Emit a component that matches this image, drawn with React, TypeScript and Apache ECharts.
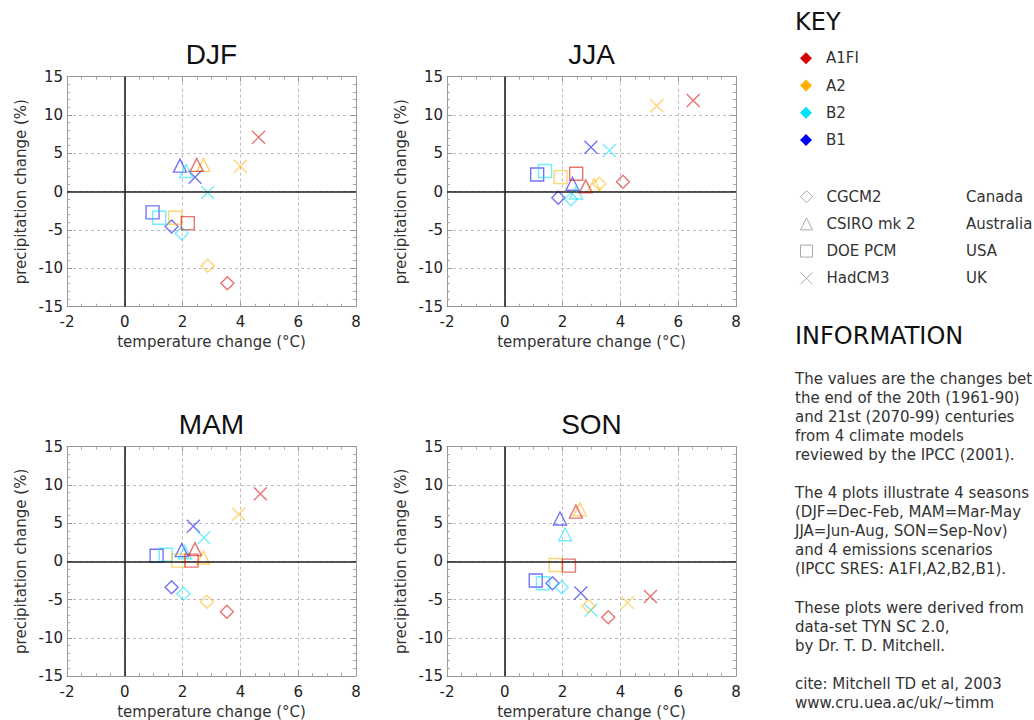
import React, { useEffect, useRef } from "react";
import * as echarts from "echarts";

const FONT = "'Liberation Sans', Arial, Helvetica, sans-serif";
const WFONT = "'DejaVu Sans', 'Liberation Sans', Arial, sans-serif";

// ---------- data ----------
const seasons = ["DJF", "JJA", "MAM", "SON"];
const scenarios = ["A1FI", "A2", "B2", "B1"];
const scenarioColors = ["#d40000", "#ffb000", "#00e0ff", "#0000f0"];
const models = ["CGCM2", "CSIRO mk 2", "DOE PCM", "HadCM3"];
const countries = ["Canada", "Australia", "USA", "UK"];
const xTicks = { min: -2, max: 8, interval: 2 };
const yTicks = { min: -15, max: 15, interval: 5 };

// rows: scenarios (A1FI, A2, B2, B1); columns: models (CGCM2, CSIRO mk 2, DOE PCM, HadCM3)
const djfTemp = [
  [3.55, 2.49, 2.18, 4.63],
  [2.87, 2.72, 1.74, 4.0],
  [1.97, 2.12, 1.19, 2.87],
  [1.62, 1.91, 0.96, 2.43],
];
const djfPrecip = [
  [-11.95, 3.5, -4.1, 7.1],
  [-9.65, 3.5, -3.4, 3.33],
  [-5.45, 2.7, -3.4, -0.1],
  [-4.55, 3.4, -2.7, 1.9],
];
const jjaTemp = [
  [4.09, 2.8, 2.47, 6.52],
  [3.27, 3.09, 1.93, 5.26],
  [2.29, 2.47, 1.39, 3.62],
  [1.85, 2.34, 1.12, 2.98],
];
const jjaPrecip = [
  [1.3, 0.7, 2.34, 11.9],
  [1.04, 0.87, 1.9, 11.2],
  [-1.0, -0.1, 2.7, 5.37],
  [-0.8, 1.04, 2.25, 5.8],
];
const mamTemp = [
  [3.53, 2.43, 2.31, 4.69],
  [2.84, 2.72, 1.85, 3.94],
  [2.03, 2.08, 1.42, 2.74],
  [1.62, 1.97, 1.1, 2.37],
];
const mamPrecip = [
  [-6.6, 1.6, 0.1, 8.83],
  [-5.3, 0.5, 0.1, 6.15],
  [-4.25, 1.2, 0.87, 3.1],
  [-3.4, 1.47, 0.74, 4.6],
];
const sonTemp = [
  [3.58, 2.46, 2.22, 5.04],
  [2.89, 2.6, 1.76, 4.25],
  [1.97, 2.09, 1.32, 2.98],
  [1.65, 1.91, 1.07, 2.63],
];
const sonPrecip = [
  [-7.3, 6.5, -0.56, -4.6],
  [-5.85, 6.8, -0.48, -5.4],
  [-3.4, 3.55, -2.86, -6.4],
  [-2.86, 5.6, -2.5, -4.15],
];

const infoLines = [
  "The values are the changes bet",
  "the end of the 20th (1961-90)",
  "and 21st (2070-99) centuries",
  "from 4 climate models",
  "reviewed by the IPCC (2001).",
  "",
  "The 4 plots illustrate 4 seasons",
  "(DJF=Dec-Feb, MAM=Mar-May",
  "JJA=Jun-Aug, SON=Sep-Nov)",
  "and 4 emissions scenarios",
  "(IPCC SRES: A1FI,A2,B2,B1).",
  "",
  "These plots were derived from",
  "data-set TYN SC 2.0,",
  "by Dr. T. D. Mitchell.",
  "",
  "cite: Mitchell TD et al, 2003",
  "www.cru.uea.ac/uk/~timm",
];

// ---------- layout ----------
const temps = [djfTemp, jjaTemp, mamTemp, sonTemp];
const precips = [djfPrecip, jjaPrecip, mamPrecip, sonPrecip];
const gridPos = [
  { left: 67, top: 76.7 },
  { left: 447, top: 76.7 },
  { left: 67, top: 446.7 },
  { left: 447, top: 446.7 },
];
const GW = 289;
const GH = 230;
const X_SYMBOL = "path://M0,0L20,20M20,0L0,20";
const modelSymbols = ["diamond", "triangle", "rect", X_SYMBOL];
const INFO_FIRST = 379;
const LH = 19.05;

export default function App() {
  const ref = useRef<HTMLDivElement>(null);

  useEffect(() => {
    document.body.style.margin = "0";
    document.body.style.overflow = "hidden";
    const chart = echarts.init(ref.current!, null, { renderer: "svg" });

    const frameColor = "#999";
    const grid: any[] = [];
    const xAxis: any[] = [];
    const yAxis: any[] = [];
    const series: any[] = [];
    const graphic: any[] = [];

    seasons.forEach((season, g) => {
      const p = gridPos[g];
      grid.push({ left: p.left, top: p.top, width: GW, height: GH });
      const tickCommon = {
        axisLine: { show: true, onZero: false, lineStyle: { color: frameColor, width: 1 } },
        axisTick: { show: true, inside: true, length: 5, lineStyle: { color: frameColor } },
      };
      xAxis.push({
        gridIndex: g,
        type: "value",
        position: "bottom",
        ...xTicks,
        ...tickCommon,
        minorTick: { show: true, splitNumber: 4, length: 3, lineStyle: { color: "#aaa" } },
        splitLine: { show: true, lineStyle: { color: "#bbb", type: [3, 3], width: 1 } },
        axisLabel: { color: "#222", fontSize: 15, margin: 8, fontFamily: WFONT },
        name: "temperature change (°C)",
        nameLocation: "middle",
        nameGap: 28,
        nameTextStyle: { color: "#333", fontSize: 15, fontFamily: WFONT },
      });
      xAxis.push({
        gridIndex: g,
        type: "value",
        position: "top",
        ...xTicks,
        ...tickCommon,
        minorTick: { show: true, splitNumber: 4, length: 3, lineStyle: { color: "#aaa" } },
        splitLine: { show: false },
        axisLabel: { show: false },
      });
      yAxis.push({
        gridIndex: g,
        type: "value",
        position: "left",
        ...yTicks,
        ...tickCommon,
        minorTick: { show: true, splitNumber: 5, length: 3, lineStyle: { color: "#aaa" } },
        splitLine: { show: true, lineStyle: { color: "#bbb", type: [3, 3], width: 1 } },
        axisLabel: { color: "#222", fontSize: 15, margin: 4, fontFamily: WFONT },
        name: "precipitation change (%)",
        nameLocation: "middle",
        nameGap: 39,
        nameTextStyle: { color: "#333", fontSize: 15, fontFamily: WFONT },
      });
      yAxis.push({
        gridIndex: g,
        type: "value",
        position: "right",
        ...yTicks,
        ...tickCommon,
        minorTick: { show: true, splitNumber: 5, length: 3, lineStyle: { color: "#aaa" } },
        splitLine: { show: false },
        axisLabel: { show: false },
      });

      scenarios.forEach((sc, k) => {
        const s: any = {
          type: "scatter",
          name: sc,
          xAxisIndex: 2 * g,
          yAxisIndex: 2 * g,
          symbolSize: 13,
          z: 5 - k,
          itemStyle: {
            color: "transparent",
            borderColor: scenarioColors[k],
            borderWidth: 1.4,
            opacity: 0.55,
          },
          emphasis: { disabled: true },
          data: temps[g][k].map((t, i) => ({
            value: [t, precips[g][k][i]],
            symbol: modelSymbols[i],
          })),
        };
        if (k === 0) {
          s.markLine = {
            silent: true,
            symbol: "none",
            label: { show: false },
            animation: false,
            lineStyle: { color: "#222", width: 1.6, type: "solid" },
            data: [{ xAxis: 0 }, { yAxis: 0 }],
          };
        }
        series.push(s);
      });

      graphic.push({
        type: "text",
        x: p.left + GW / 2,
        y: p.top - 22,
        style: {
          text: season,
          fontSize: 28,
          fontFamily: FONT,
          fill: "#111",
          align: "center",
          verticalAlign: "middle",
        },
      });
    });

    // empty series that carry the model names for the model key
    models.forEach((m, i) => {
      series.push({
        type: "scatter",
        name: m,
        xAxisIndex: 0,
        yAxisIndex: 0,
        symbol: modelSymbols[i],
        itemStyle: { color: "transparent", borderColor: "#aaa", borderWidth: 1 },
        data: [],
      });
    });

    graphic.push({
      type: "text",
      x: 795,
      y: 22,
      style: { text: "KEY", fontSize: 24, fontFamily: WFONT, fill: "#111", verticalAlign: "middle" },
    });
    graphic.push({
      type: "text",
      x: 795,
      y: 336,
      style: { text: "INFORMATION", fontSize: 24, fontFamily: WFONT, fill: "#111", verticalAlign: "middle" },
    });
    countries.forEach((c, i) => {
      graphic.push({
        type: "text",
        x: 966,
        y: 196.7 + i * 27.2,
        style: { text: c, fontSize: 15, fontFamily: WFONT, fill: "#333", verticalAlign: "middle" },
      });
    });
    graphic.push({
      type: "text",
      x: 795,
      y: INFO_FIRST - LH / 2,
      style: {
        text: infoLines.join("\n"),
        fontSize: 15,
        lineHeight: LH,
        fontFamily: WFONT,
        fill: "#333",
        verticalAlign: "top",
      },
    });

    const legendText = { fontSize: 15, lineHeight: 16, color: "#333", fontFamily: WFONT, padding: [0, 0, 0, 9] };
    chart.setOption({
      animation: false,
      backgroundColor: "#fff",
      grid,
      xAxis,
      yAxis,
      series,
      graphic,
      legend: [
        {
          orient: "vertical",
          left: 800,
          top: 50.3,
          padding: 0,
          itemWidth: 12,
          itemHeight: 12,
          itemGap: 11.2,
          selectedMode: false,
          textStyle: legendText,
          data: scenarios.map((sc, k) => ({
            name: sc,
            icon: "diamond",
            itemStyle: { color: scenarioColors[k], borderWidth: 0, opacity: 1 },
          })),
        },
        {
          orient: "vertical",
          left: 800,
          top: 188.7,
          padding: 0,
          itemWidth: 12,
          itemHeight: 12,
          itemGap: 11.2,
          selectedMode: false,
          textStyle: legendText,
          data: models.map((m, i) => ({
            name: m,
            icon: modelSymbols[i],
            itemStyle: { color: "transparent", borderColor: "#aaa", borderWidth: 1, opacity: 1 },
          })),
        },
      ],
    });

    return () => chart.dispose();
  }, []);

  return <div ref={ref} style={{ width: 1034, height: 720 }} />;
}
